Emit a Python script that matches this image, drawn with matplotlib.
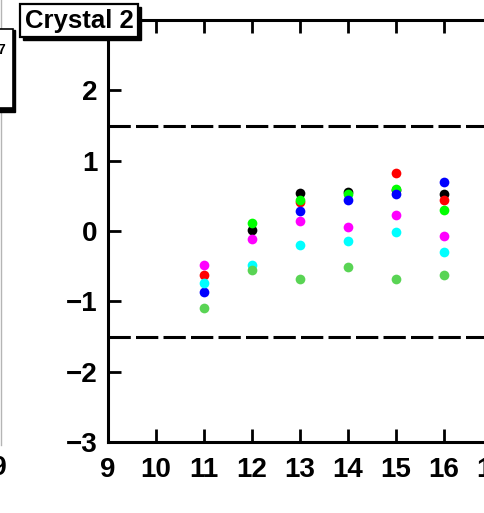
import numpy as np
import matplotlib
matplotlib.use("Agg")
import matplotlib.pyplot as plt
from matplotlib.patches import Rectangle
from matplotlib.lines import Line2D

plt.rcParams['font.family'] = ['Liberation Sans', 'DejaVu Sans']
plt.rcParams['font.weight'] = 'bold'

# run number on the x axis, deviation per channel on the y axis
runs = [11, 12, 13, 14, 15, 16]
ch_black = [np.nan, 0.01, 0.54, 0.55, 0.58, 0.53]
ch_red = [-0.62, np.nan, 0.41, np.nan, 0.83, 0.44]
ch_lime = [np.nan, 0.12, 0.44, 0.53, 0.60, 0.30]
ch_blue = [-0.87, np.nan, 0.29, 0.44, 0.52, 0.70]
ch_magenta = [-0.49, -0.12, 0.14, 0.05, 0.23, -0.07]
ch_cyan = [-0.74, -0.49, -0.20, -0.14, -0.02, -0.30]
ch_green = [-1.10, -0.56, -0.68, -0.51, -0.68, -0.63]

series = [
    (ch_black, 'black'),
    (ch_red, '#ff0000'),
    (ch_lime, '#00ff00'),
    (ch_blue, '#0000ff'),
    (ch_magenta, '#ff00ff'),
    (ch_cyan, '#00ffff'),
    (ch_green, '#59d454'),
]

W, H = 484, 513
fig = plt.figure(figsize=(W / 100, H / 100), dpi=100)


def fx(px):
    return px / W


def fy(py):
    return 1 - py / H


# frame: x from 9 at pixel 108, 48 px per unit; y from -3 to 3 between pixels 442 and 20
ax = fig.add_axes([fx(108), fy(442), 480 / W, 422 / H])
ax.set_xlim(9, 19)
ax.set_ylim(-3, 3)

for vals, col in series:
    ax.plot(runs, vals, 'o', color=col, markersize=7, markeredgewidth=0, zorder=3)

for lvl in (1.5, -1.5):
    ax.axhline(lvl, color='black', lw=2.2, dashes=(7.3, 1.7), zorder=2)

ax.set_xticks(range(9, 20))
ax.set_yticks(range(-3, 3))
ax.tick_params(direction='in', length=9.5, width=2.0, top=True, right=True,
               labelsize=20, pad=7.5)
ax.tick_params(axis='x', pad=10.5)
for lab in ax.get_xticklabels() + ax.get_yticklabels():
    lab.set_fontweight('bold')
for sp in ax.spines.values():
    sp.set_linewidth(2.2)

# title box with shadow
fig.patches.append(Rectangle((fx(23), fy(40)), 118 / W, 33 / H, transform=fig.transFigure,
                             facecolor='black', edgecolor='black', zorder=10))
fig.patches.append(Rectangle((fx(20), fy(37)), 118 / W, 33 / H, transform=fig.transFigure,
                             facecolor='white', edgecolor='black', lw=1.6, zorder=11))
fig.text(fx(79), fy(21), 'Crystal 2', ha='center', va='center', fontsize=18.5,
         fontweight='bold', zorder=12)

# edge of the neighbouring pad
fig.lines.append(Line2D([fx(1), fx(1)], [fy(0), fy(445)], transform=fig.transFigure,
                        color='#b5b5b5', lw=1.0))
fig.patches.append(Rectangle((fx(-20), fy(112)), 35 / W, 82 / H, transform=fig.transFigure,
                             facecolor='black', edgecolor='black', zorder=10))
fig.patches.append(Rectangle((fx(-20), fy(108)), 33 / W, 79 / H, transform=fig.transFigure,
                             facecolor='white', edgecolor='black', lw=1.2, zorder=11))
fig.text(fx(5), fy(50), '7', ha='right', va='center', fontsize=10, fontweight='bold',
         zorder=12)
fig.text(fx(7), fy(468), '19', ha='right', va='center', fontsize=20, fontweight='bold')

fig.savefig('out.png', dpi=100)
